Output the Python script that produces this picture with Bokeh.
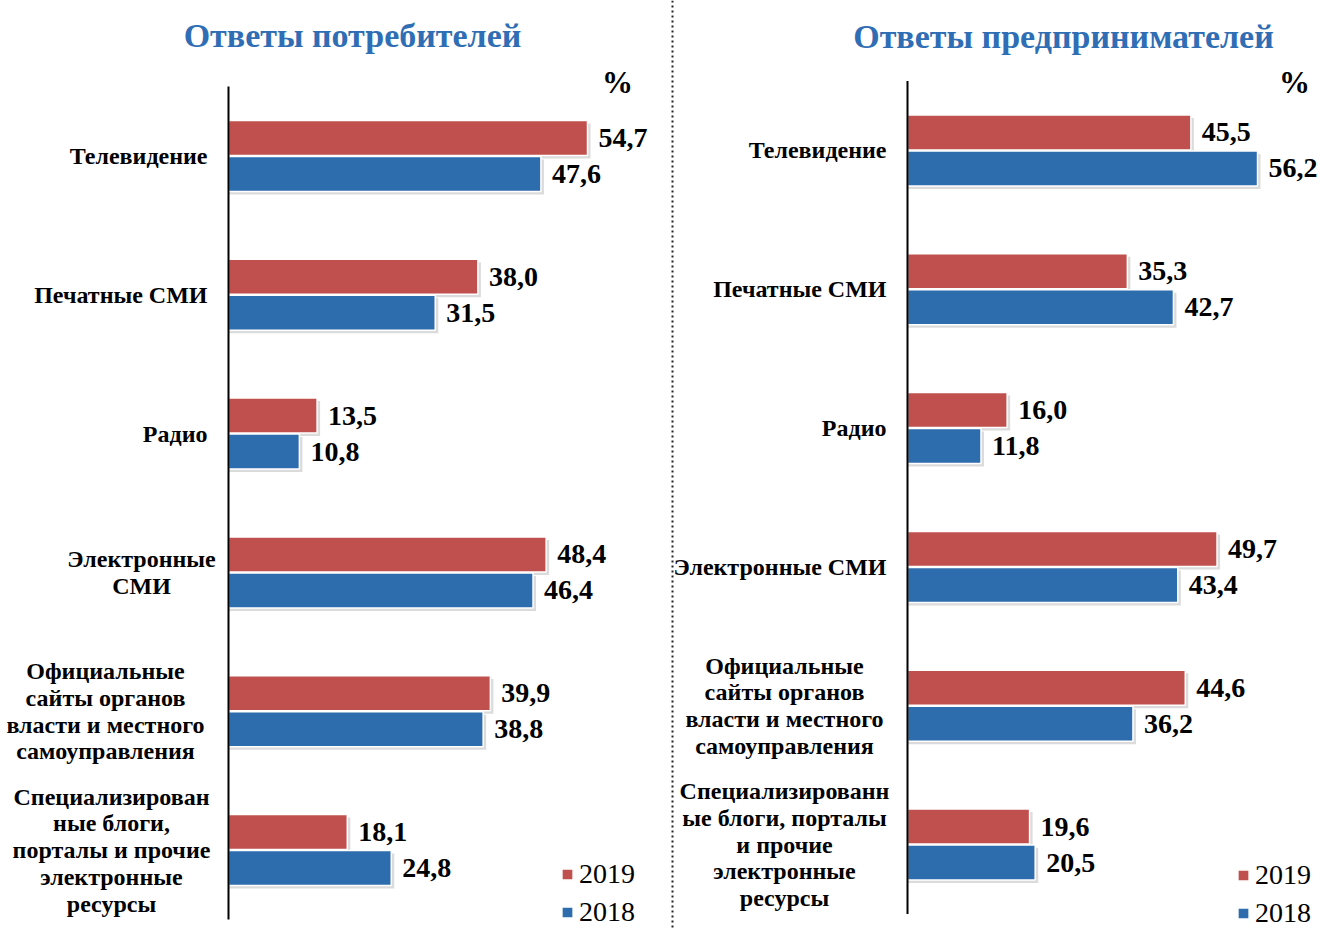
from bokeh.plotting import figure
from bokeh.models import Range1d, Label, Legend, LegendItem, Span
from bokeh.layouts import row
from bokeh.embed import file_html
from bokeh.resources import INLINE
from bokeh.core.properties import value

# ---------------- data ----------------
categories_consumers = [
    "Телевидение",
    "Печатные СМИ",
    "Радио",
    "Электронные\nСМИ",
    "Официальные\nсайты органов\nвласти и местного\nсамоуправления",
    "Специализирован\nные блоги,\nпорталы и прочие\nэлектронные\nресурсы",
]
consumers_2019 = [54.7, 38.0, 13.5, 48.4, 39.9, 18.1]
consumers_2018 = [47.6, 31.5, 10.8, 46.4, 38.8, 24.8]

categories_business = [
    "Телевидение",
    "Печатные СМИ",
    "Радио",
    "Электронные СМИ",
    "Официальные\nсайты органов\nвласти и местного\nсамоуправления",
    "Специализированн\nые блоги, порталы\nи прочие\nэлектронные\nресурсы",
]
business_2019 = [45.5, 35.3, 16.0, 49.7, 44.6, 19.6]
business_2018 = [56.2, 42.7, 11.8, 43.4, 36.2, 20.5]

series_labels = ["2019", "2018"]
panel_titles = ["Ответы потребителей", "Ответы предпринимателей"]
unit_label = "%"

# ---------------- style ----------------
RED = "#C0504D"
BLUE = "#2E6DAD"
TITLE_BLUE = "#2F6EB4"
FONT = "Liberation Serif"
SERIF = value(FONT)
CAT_FS = 24
VAL_FS = 28
H = 928


def fmt(v):
    return f"{v:.1f}".replace(".", ",")


def make_panel(width, axis_px, ppu, axis_top, axis_bottom, label_right,
               cats, v19, v18, title, title_c, pct_c, legend_loc, sep_px=None):
    n = len(cats)
    row_px = (axis_bottom - axis_top) / n
    x_start = -axis_px / ppu
    x_end = (width - axis_px) / ppu
    y_start = -(H - axis_bottom) / row_px
    y_end = n + axis_top / row_px

    p = figure(width=width, height=H,
               x_range=Range1d(x_start, x_end), y_range=Range1d(y_start, y_end),
               output_backend="svg", toolbar_location=None, min_border=0,
               x_axis_location=None, y_axis_location=None,
               outline_line_color=None, background_fill_color="white")
    p.grid.visible = False

    bar_h = 35 / row_px
    off = 18 / row_px
    centers = [n - i - 0.5 for i in range(n)]
    y19 = [c + off for c in centers]
    y18 = [c - off for c in centers]

    dx = 3 / ppu
    dy = 3 / row_px
    # shadows
    for ys, vs in ((y19, v19), (y18, v18)):
        p.hbar(y=[y - dy for y in ys], left=0, right=[v + dx for v in vs],
               height=bar_h, fill_color="#b0b0b0", fill_alpha=0.45,
               line_color=None)
    r19 = p.hbar(y=y19, left=0, right=v19, height=bar_h, fill_color=RED,
                 line_color="white", line_width=1.5)
    r18 = p.hbar(y=y18, left=0, right=v18, height=bar_h, fill_color=BLUE,
                 line_color="white", line_width=1.5)

    # axis line
    p.segment(x0=[0], y0=[0], x1=[0], y1=[n], line_color="black", line_width=2)

    # value labels
    lab_off = 11 / ppu
    for ys, vs in ((y19, v19), (y18, v18)):
        p.text(x=[v + lab_off for v in vs], y=ys, text=[fmt(v) for v in vs],
               text_font=SERIF, text_font_style="bold",
               text_font_size=f"{VAL_FS}px", text_baseline="middle",
               text_align="left", text_color="black")

    # category labels
    single_x, single_y, single_t = [], [], []
    multi_x, multi_y, multi_t = [], [], []
    for c, y in zip(cats, centers):
        lines = c.split("\n")
        if len(lines) == 1:
            single_x.append((label_right - axis_px) / ppu)
            single_y.append(y)
            single_t.append(c)
        else:
            maxw = max(len(l) for l in lines) * 0.5 * CAT_FS
            cx = label_right - maxw / 2
            multi_x.append((cx - axis_px) / ppu)
            multi_y.append(y)
            multi_t.append(c)
    p.text(x=single_x, y=single_y, text=single_t, text_font=SERIF,
           text_font_style="bold", text_font_size=f"{CAT_FS}px",
           text_baseline="middle", text_align="right", text_color="black")
    p.text(x=multi_x, y=multi_y, text=multi_t, text_font=SERIF,
           text_font_style="bold", text_font_size=f"{CAT_FS}px",
           text_baseline="middle", text_align="center", text_color="black",
           text_line_height=1.03)

    # title and unit
    p.add_layout(Label(x=title_c[0], y=H - title_c[1], x_units="screen",
                       y_units="screen", text=title, text_font=FONT,
                       text_font_style="bold", text_font_size="34px",
                       text_color=TITLE_BLUE, text_align="center",
                       text_baseline="middle"))
    p.add_layout(Label(x=pct_c[0], y=H - pct_c[1], x_units="screen",
                       y_units="screen", text=unit_label, text_font=FONT,
                       text_font_style="bold", text_font_size="31px",
                       text_color="black", text_align="center",
                       text_baseline="middle"))

    legend = Legend(items=[LegendItem(label=series_labels[0], renderers=[r19]),
                           LegendItem(label=series_labels[1], renderers=[r18])],
                    location=legend_loc, orientation="vertical",
                    glyph_width=14, glyph_height=14, label_standoff=5,
                    label_text_font=FONT, label_text_font_size="28px",
                    label_text_color="black", spacing=6, padding=0, margin=0,
                    border_line_color=None, background_fill_alpha=0)
    p.add_layout(legend, "center")

    if sep_px is not None:
        p.add_layout(Span(location=(sep_px - axis_px) / ppu, dimension="height",
                          line_color="#222222", line_width=2, line_dash="2 3"))
    return p


left = make_panel(674, 228, 6.563, 86, 919, 207,
                  categories_consumers, consumers_2019, consumers_2018,
                  panel_titles[0], (352, 35), (617, 82), (560, 0), sep_px=672)
right = make_panel(644, 233, 6.228, 80.5, 913.5, 212,
                   categories_business, business_2019, business_2018,
                   panel_titles[1], (389, 36), (620, 82), (562, -1))

layout = row(left, right)
open("out.html", "w").write(file_html(layout, INLINE))
